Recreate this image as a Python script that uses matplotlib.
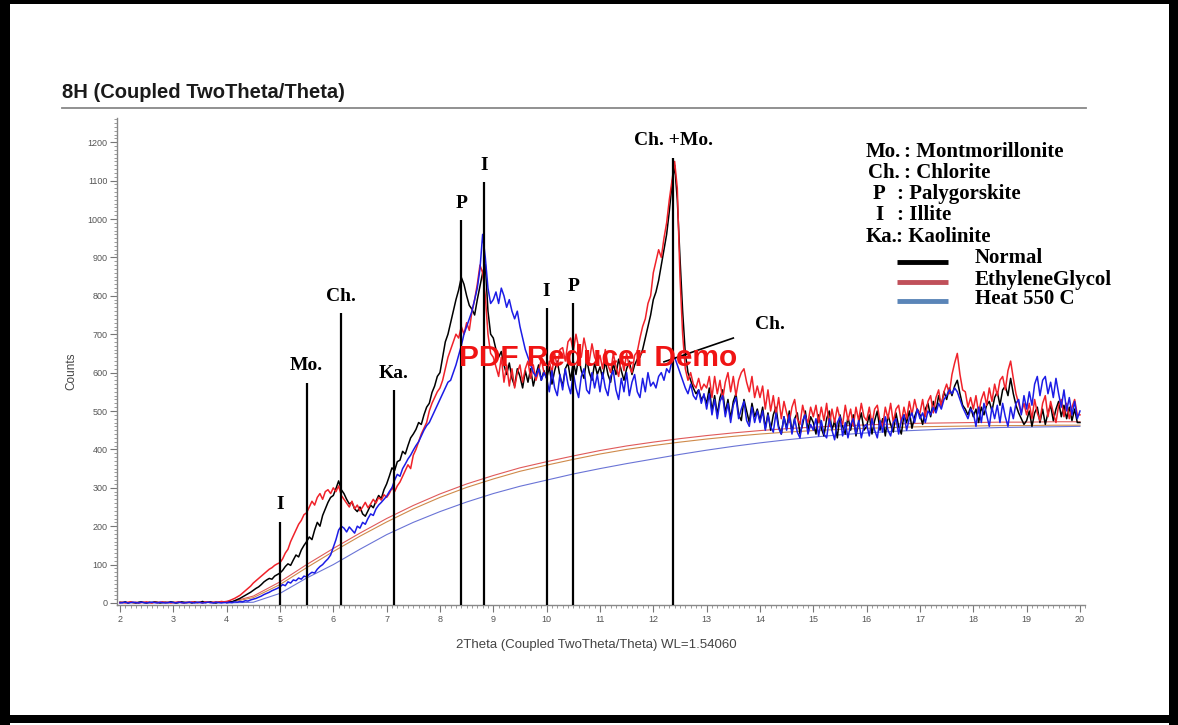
import numpy as np
import matplotlib
matplotlib.use("Agg")
import matplotlib.pyplot as plt
from matplotlib.patches import Rectangle
from matplotlib.lines import Line2D
from matplotlib.ticker import MultipleLocator

# ---------------------------------------------------------------- data
# scan positions (degrees 2theta), 0.05 deg step from 2 to 20
two_theta = np.round(2.0 + 0.05 * np.arange(361), 2)

normal_counts = [
    2, 1, 3, 0, 2, 1, 0, 2, 3, 1, 0, 2, 1, 3, 2, 0, 1, 2, 1, 3,
    2, 0, 1, 3, 2, 1, 2, 0, 3, 1, 2, 4, 1, 2, 3, 1, 0, 2, 3, 2,
    2, 4, 3, 6, 9, 12, 16, 20, 24, 28, 33, 38, 42, 48, 55, 60, 64, 62, 70, 74,
    78, 85, 95, 102, 98, 112, 125, 120, 138, 150, 160, 172, 165, 190, 210, 200, 228, 245, 262, 275,
    280, 298, 318, 295, 285, 270, 258, 262, 245, 238, 250, 232, 226, 240, 255, 248, 265, 280, 272, 295,
    310, 330, 352, 345, 368, 372, 395, 388, 410, 430, 440, 452, 470, 465, 490, 510, 520, 548, 565, 590,
    600, 640, 680, 700, 730, 760, 790, 815, 848, 830, 800, 775, 765, 750, 790, 825, 860, 882, 760, 700,
    690, 660, 640, 655, 620, 595, 625, 585, 565, 610, 590, 560, 605, 575, 610, 565, 595, 620, 580, 605,
    585, 615, 570, 605, 630, 590, 565, 610, 625, 580, 630, 595, 640, 605, 585, 635, 600, 580, 625, 595,
    615, 585, 630, 595, 575, 625, 595, 635, 605, 580, 610, 630, 595, 620, 635, 640, 660, 690, 720, 750,
    790, 810, 840, 880, 920, 960, 1020, 1090, 1140, 1050, 900, 760, 650, 600, 580, 560, 545, 555, 530, 540,
    520, 560, 500, 540, 490, 535, 555, 495, 530, 480, 525, 545, 490, 475, 530, 500, 470, 520, 485, 505,
    475, 510, 455, 495, 450, 490, 510, 460, 440, 485, 455, 500, 445, 480, 495, 440, 465, 500, 450, 485,
    470, 440, 490, 455, 435, 480, 500, 450, 475, 430, 490, 460, 440, 485, 450, 490, 435, 470, 495, 450,
    460, 490, 440, 475, 500, 450, 480, 435, 490, 465, 445, 495, 460, 440, 490, 470, 500, 455, 485, 505,
    490, 465, 505, 520, 485, 525, 500, 540, 515, 550, 530, 560, 540, 565, 580, 545, 515, 505, 490, 510,
    485, 505, 470, 510, 490, 515, 525, 500, 535, 550, 515, 555, 565, 540, 585, 545, 515, 495, 480, 465,
    475, 500, 460, 495, 510, 470, 505, 465, 495, 515, 475, 505, 525, 485, 515, 480, 510, 475, 505, 470,
    470,
]

glycol_counts = [
    1, 2, 0, 2, 3, 1, 2, 0, 1, 2, 3, 1, 0, 2, 1, 2, 3, 1, 2, 0,
    1, 2, 3, 1, 0, 2, 1, 3, 2, 1, 2, 0, 3, 2, 1, 2, 3, 2, 4, 3,
    4, 6, 9, 12, 16, 20, 26, 32, 38, 44, 52, 58, 64, 70, 76, 82, 88, 92, 98, 102,
    105, 115, 130, 140, 160, 175, 190, 205, 215, 230, 235, 250, 265, 255, 275, 285, 270, 290, 295, 285,
    300, 290, 305, 280, 270, 260, 250, 265, 245, 255, 240, 250, 262, 248, 258, 270, 260, 275, 268, 282,
    275, 285, 300, 290, 305, 315, 330, 345, 360, 350, 385, 400, 420, 440, 455, 470, 500, 520, 535, 550,
    560, 580, 610, 640, 660, 680, 700, 690, 720, 700, 730, 710, 760, 790, 830, 880, 860, 800, 700, 650,
    640, 615, 590, 640, 575, 620, 565, 610, 560, 600, 620, 575, 610, 630, 585, 620, 580, 605, 635, 600,
    595, 630, 600, 650, 615, 660, 665, 630, 680, 690, 655, 700, 665, 640, 690, 655, 630, 675, 640, 625,
    645, 610, 660, 620, 600, 650, 615, 590, 640, 605, 650, 615, 600, 645, 655, 690, 720, 740, 780, 800,
    860, 890, 920, 900, 950, 990, 1050, 1100, 1150, 1080, 850, 700, 610, 580, 600, 570, 560, 585, 555, 570,
    560, 590, 535, 590, 545, 580, 530, 575, 600, 550, 590, 540, 580, 600, 610, 575, 550, 590, 535, 565,
    535, 565, 505, 555, 500, 540, 490, 535, 480, 525, 495, 470, 510, 530, 480, 465, 515, 485, 470, 510,
    485, 515, 470, 510, 475, 520, 460, 505, 470, 510, 480, 465, 515, 475, 505, 460, 510, 475, 520, 485,
    475, 510, 465, 505, 515, 475, 460, 510, 480, 520, 470, 505, 515, 470, 510, 480, 525, 490, 530, 500,
    495, 530, 485, 525, 540, 495, 535, 555, 510, 550, 570, 545, 595, 625, 650, 595, 555, 550, 510, 535,
    505, 540, 495, 530, 550, 515, 560, 525, 570, 540, 580, 590, 555, 605, 630, 585, 545, 520, 495, 520,
    490, 520, 480, 530, 495, 475, 520, 540, 485, 525, 495, 470, 515, 530, 485, 520, 480, 510, 530, 490,
    490,
]

heated_counts = [
    0, 1, 2, 0, 1, 2, 1, 0, 2, 1, 0, 1, 2, 1, 0, 2, 1, 0, 1, 2,
    1, 0, 2, 1, 0, 1, 2, 1, 0, 2, 1, 0, 1, 2, 1, 0, 2, 1, 0, 1,
    1, 2, 1, 3, 2, 4, 3, 6, 5, 8, 10, 12, 15, 18, 22, 25, 28, 32, 35, 38,
    42, 48, 45, 55, 52, 60, 58, 65, 62, 70, 68, 75, 80, 78, 88, 95, 100, 108, 115, 125,
    145, 165, 190, 200, 195, 185, 198, 190, 182, 200, 195, 210, 205, 220, 232, 228, 245, 255, 262, 270,
    278, 290, 300, 320, 335, 330, 350, 362, 375, 385, 398, 410, 420, 435, 450, 462, 470, 485, 500, 515,
    530, 545, 560, 575, 580, 600, 620, 645, 670, 700, 720, 740, 760, 790, 820, 870, 960, 900, 820, 780,
    790, 810, 780, 820, 800, 770, 790, 760, 740, 760, 720, 690, 660, 640, 620, 600, 590, 610, 580, 600,
    585, 550, 605, 560, 540, 595, 555, 610, 570, 545, 600, 560, 535, 590, 610, 555, 545, 600, 560, 595,
    550, 600, 560, 540, 590, 605, 555, 530, 585, 550, 600, 540, 575, 595, 550, 535, 585, 550, 600, 565,
    575, 560, 590, 600, 580, 610, 600, 630, 640, 620, 600, 580, 560, 545, 570, 540, 530, 555, 520, 545,
    505, 545, 490, 530, 480, 525, 540, 485, 520, 470, 515, 535, 480, 505, 525, 475, 460, 510, 470, 500,
    470, 500, 450, 490, 460, 445, 495, 455, 440, 485, 450, 490, 440, 480, 445, 430, 475, 490, 440, 465,
    450, 480, 435, 475, 440, 430, 480, 450, 425, 470, 485, 435, 470, 430, 465, 480, 440, 475, 430, 460,
    465, 435, 480, 450, 430, 475, 445, 485, 450, 435, 470, 480, 440, 475, 490, 450, 480, 495, 470, 505,
    480, 495, 470, 500, 490, 510, 495, 520, 505, 530, 540, 555, 545, 560, 550, 530, 510, 495, 480, 505,
    495, 460, 510, 470, 520, 490, 460, 510, 480, 515, 470, 520, 485, 460, 510, 480, 520, 530, 490, 540,
    505, 550, 515, 570, 590, 540, 580, 590, 545, 575, 535, 585, 545, 510, 555, 500, 535, 490, 525, 480,
    500,
]

# fitted background curves
bg_theta = [4.0, 4.5, 5.0, 5.5, 6.0, 6.5, 7.0, 7.5, 8.0, 8.5, 9.0, 9.5, 10.0, 10.5, 11.0, 11.5,
            12.0, 12.5, 13.0, 13.5, 14.0, 14.5, 15.0, 15.5, 16.0, 16.5, 17.0, 17.5, 18.0, 18.5,
            19.0, 19.5, 20.0]
bg_glycol = [0, 18, 55, 100, 142, 182, 220, 254, 284, 310, 332, 352, 368, 383, 397, 409,
             419, 428, 436, 443, 449, 454, 458, 461, 464, 466, 468, 469, 470, 471, 471, 472, 472]
bg_normal = [0, 14, 48, 92, 134, 174, 211, 245, 275, 301, 323, 343, 359, 374, 388, 400,
             410, 419, 427, 434, 440, 445, 449, 452, 455, 457, 459, 460, 461, 462, 462, 463, 463]
bg_heated = [0, 2, 25, 65, 100, 140, 178, 210, 238, 263, 285, 304, 320, 336, 350, 363,
             375, 387, 398, 408, 417, 425, 432, 438, 443, 447, 450, 453, 455, 457, 458, 459, 460]

# phase reflections
peak_pos = [5.0, 5.5, 6.15, 7.13, 8.4, 8.82, 10.0, 10.5, 12.37]
peak_top = [212, 574, 755, 555, 997, 1096, 768, 781, 1160]
peak_lbl = ["I", "Mo.", "Ch.", "Ka.", "P", "I", "I", "P", "Ch. +Mo."]

key_abbr = ["Mo.", "Ch.", "P", "I", "Ka."]
key_name = [": Montmorillonite", ": Chlorite", ": Palygorskite", ": Illite", ": Kaolinite"]
series_names = ["Normal", "EthyleneGlycol", "Heat 550 C"]

# ---------------------------------------------------------------- figure
W, H = 1178, 725
fig = plt.figure(figsize=(W / 100, H / 100), dpi=100, facecolor="white")


def fx(px):
    return px / W


def fy(py):
    return 1 - py / H


SANS = "Liberation Sans"
SERIF = "Liberation Serif"

ax = fig.add_axes([fx(117.3), fy(605.3), 968 / W, (605.3 - 118.4) / H])
ax.set_xlim(1.95, 20.1)
ax.set_ylim(-6, 1262)

ax.plot(bg_theta, bg_glycol, color="#e05a5a", lw=0.8, zorder=1)
ax.plot(bg_theta, bg_normal, color="#cf8a4a", lw=0.8, zorder=1)
ax.plot(bg_theta, bg_heated, color="#6a74d6", lw=0.8, zorder=1)

ax.plot(two_theta, normal_counts, color="#000000", lw=1.1, zorder=2)
ax.plot(two_theta, glycol_counts, color="#f0222a", lw=1.1, zorder=3)
ax.plot(two_theta, heated_counts, color="#1c1ce6", lw=1.1, zorder=4)

# reflection markers
for pos, top, lbl in zip(peak_pos, peak_top, peak_lbl):
    ax.plot([pos, pos], [-6, top], color="black", lw=1.6, zorder=6, solid_capstyle="butt")
    ax.annotate(lbl, (pos, top), xytext=(0, 6), textcoords="offset points",
                ha="center", va="bottom", family=SERIF, fontweight="bold",
                fontsize=14, zorder=7)

ax.plot([12.2, 13.5], [628, 690], color="black", lw=1.2, zorder=6)
ax.text(14.19, 724, "Ch.", ha="center", va="center", family=SERIF,
        fontweight="bold", fontsize=14, zorder=7)

ax.text(10.96, 638, "PDF Reducer Demo", ha="center", va="center", family=SANS,
        fontweight="bold", fontsize=21.5, color="#f01414", zorder=10)

# axes styling
for side in ("top", "right"):
    ax.spines[side].set_visible(False)
for side in ("left", "bottom"):
    ax.spines[side].set_color("#888888")
    ax.spines[side].set_linewidth(1.0)

ax.set_xticks(range(2, 21))
ax.xaxis.set_minor_locator(MultipleLocator(0.1))
ax.set_yticks(range(0, 1201, 100))
ax.yaxis.set_minor_locator(MultipleLocator(10))
ax.tick_params(which="major", direction="out", length=5, width=0.8, color="#777777",
               labelsize=6.5, labelcolor="#555555", pad=2)
ax.tick_params(which="minor", direction="out", length=2.5, width=0.6, color="#8a8a8a")
for lab in ax.get_xticklabels() + ax.get_yticklabels():
    lab.set_family(SANS)

# titles and axis captions
fig.text(fx(62), fy(92), "8H (Coupled TwoTheta/Theta)", ha="left", va="center",
         family=SANS, fontweight="bold", fontsize=14.5, color="#1a1a1a")
fig.add_artist(Line2D([fx(62), fx(1086)], [fy(108), fy(108)], transform=fig.transFigure,
                      color="#888888", lw=1.3))
fig.text(fx(71), fy(371), "Counts", rotation=90, ha="center", va="center",
         family=SANS, fontsize=8.5, color="#444444")
fig.text(fx(596), fy(645), "2Theta (Coupled TwoTheta/Theta) WL=1.54060", ha="center",
         va="center", family=SANS, fontsize=9.5, color="#444444")

# mineral key
key_y = [152, 173, 194, 215, 237]
abbr_x = [866, 868, 873, 875, 866]
name_x = [904, 904, 897, 897, 896]
for a, n, y, xa, xn in zip(key_abbr, key_name, key_y, abbr_x, name_x):
    fig.text(fx(xa), fy(y), a, ha="left", va="center", family=SERIF,
             fontweight="bold", fontsize=15)
    fig.text(fx(xn), fy(y), n, ha="left", va="center", family=SERIF,
             fontweight="bold", fontsize=15)

swatch_y = [262, 282, 301]
swatch_c = ["#000000", "#c0505a", "#5a85b8"]
label_y = [258, 280, 299]
for name, sy, c, ly in zip(series_names, swatch_y, swatch_c, label_y):
    fig.add_artist(Line2D([fx(897), fx(948)], [fy(sy), fy(sy)], transform=fig.transFigure,
                          color=c, lw=3.5, solid_capstyle="butt"))
    fig.text(fx(975), fy(ly), name, ha="left", va="center", family=SERIF,
             fontweight="bold", fontsize=15)

# page frame
for (x0, y0, w, h) in [(0, 0, 10, H), (W - 9, 0, 9, H), (0, 0, W, 4), (0, 715, W, 8)]:
    fig.add_artist(Rectangle((fx(x0), fy(y0 + h)), w / W, h / H, transform=fig.transFigure,
                             facecolor="black", edgecolor="none"))

fig.savefig("out.png", dpi=100, facecolor="white")
